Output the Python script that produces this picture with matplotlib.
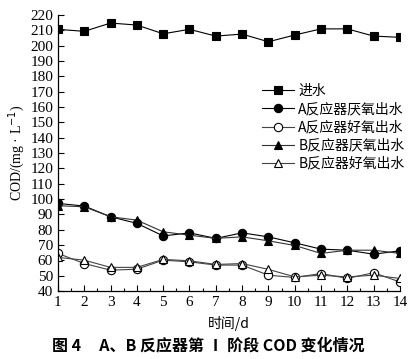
import matplotlib
matplotlib.use("Agg")
import matplotlib.pyplot as plt
from matplotlib.ticker import MultipleLocator

days = list(range(1, 15))
influent = [210.7, 209.4, 214.8, 213.5, 207.8, 210.7, 206.3, 207.6, 202.6, 207.0, 211.0, 211.0, 206.3, 205.5]
a_anaerobic = [97.2, 95.5, 88.5, 84.2, 76.0, 78.0, 74.4, 78.0, 75.4, 71.5, 67.4, 66.7, 64.1, 66.3]
a_aerobic = [64.6, 58.0, 53.7, 54.3, 60.2, 59.1, 57.0, 57.0, 50.4, 48.9, 51.5, 48.3, 52.0, 46.0]
b_anaerobic = [95.7, 95.0, 88.5, 86.3, 78.7, 76.5, 74.4, 75.4, 72.8, 69.8, 64.6, 66.7, 66.7, 64.6]
b_aerobic = [62.0, 60.2, 55.5, 55.5, 60.7, 59.8, 57.4, 58.0, 54.2, 49.3, 50.4, 49.3, 50.4, 48.3]
labels = ["进水", "A反应器厌氧出水", "A反应器好氧出水", "B反应器厌氧出水", "B反应器好氧出水"]

serif = ["Liberation Serif", "Noto Sans CJK SC"]
cjk = ["Noto Sans CJK SC", "Liberation Serif"]

fig = plt.figure(figsize=(4.17, 3.59), dpi=100)
ax = fig.add_axes([0.139, 0.189, 0.820, 0.769])

kw = dict(lw=0.8, ms=6, markeredgewidth=0.8, markeredgecolor="black")
ax.plot(days, influent, marker="s", color="black", markerfacecolor="black", label=labels[0], **kw)
ax.plot(days, a_anaerobic, marker="o", color="black", markerfacecolor="black", label=labels[1], **kw)
ax.plot(days, a_aerobic, marker="o", color="#444444", markerfacecolor="white", label=labels[2], **kw)
ax.plot(days, b_anaerobic, marker="^", color="#333333", markerfacecolor="black", label=labels[3], **kw)
ax.plot(days, b_aerobic, marker="^", color="#444444", markerfacecolor="white", label=labels[4], **kw)

ax.set_xlim(1, 14)
ax.set_ylim(40, 220)
ax.set_xticks(days)
ax.xaxis.set_minor_locator(MultipleLocator(0.5))
ax.yaxis.set_major_locator(MultipleLocator(10))
ax.tick_params(which="both", direction="in", labelsize=11, width=0.8)
ax.tick_params(which="major", length=4)
ax.tick_params(which="minor", length=2)
for lab in ax.get_xticklabels() + ax.get_yticklabels():
    lab.set_family(serif)
ax.spines["top"].set_visible(False)
ax.spines["right"].set_visible(False)
ax.spines["left"].set_linewidth(0.9)
ax.spines["bottom"].set_linewidth(0.9)

ax.set_ylabel("COD/(mg · L$^{-1}$)", family=serif, fontsize=10, labelpad=2)
ax.set_xlabel("时间/d", family=cjk, fontsize=10, labelpad=5)

leg = ax.legend(loc="upper right", bbox_to_anchor=(1.03, 0.77), frameon=False,
                prop={"family": cjk, "size": 10}, handlelength=2.3,
                labelspacing=0.3, handletextpad=0.3, borderaxespad=0)

fig.text(0.5, 0.037, "图 4     A、B 反应器第 Ⅰ 阶段 COD 变化情况", ha="center", va="center",
         family=cjk, fontsize=11.5, fontweight="bold")

fig.savefig("out.png", dpi=100)
